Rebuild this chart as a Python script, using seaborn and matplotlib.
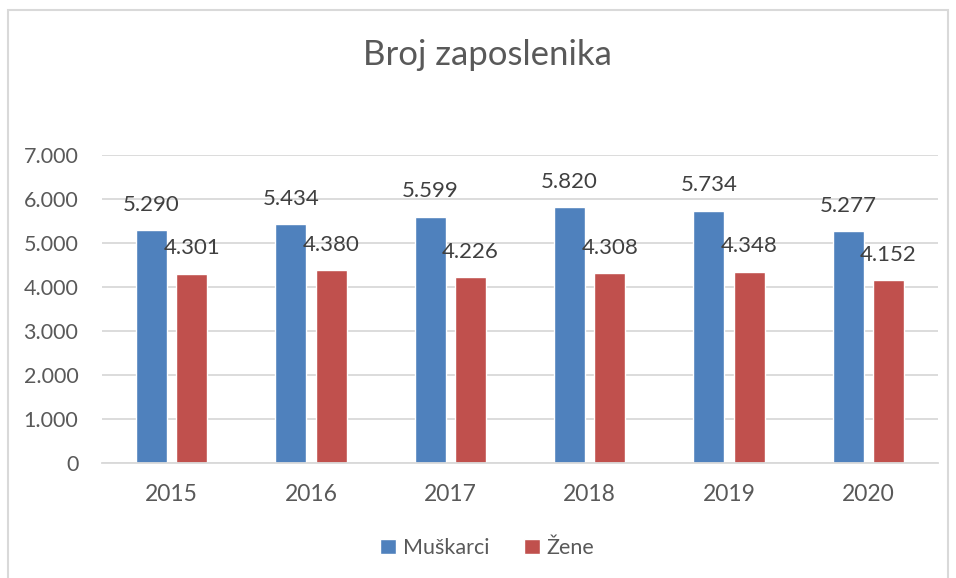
import pandas as pd
import matplotlib.pyplot as plt
import seaborn as sns
from matplotlib.patches import Rectangle

godine = ["2015", "2016", "2017", "2018", "2019", "2020"]
muskarci = [5290, 5434, 5599, 5820, 5734, 5277]
zene = [4301, 4380, 4226, 4308, 4348, 4152]
serije = ["Muškarci", "Žene"]
boje = ["#4F81BD", "#C0504D"]
y_ticks = [0, 1000, 2000, 3000, 4000, 5000, 6000, 7000]


def fmt(v):
    return f"{v:,}".replace(",", ".")


df = pd.DataFrame({
    "godina": godine * 2,
    "broj": muskarci + zene,
    "spol": [serije[0]] * len(godine) + [serije[1]] * len(godine),
})

sns.set_style("white")
plt.rcParams["font.family"] = ["Lato", "DejaVu Sans"]

fig = plt.figure(figsize=(9.56, 5.78), dpi=100)
fig.patches.append(Rectangle((8 / 956, -0.01), 940 / 956, 1 - 10 / 578 + 0.01,
                             transform=fig.transFigure, fill=False,
                             edgecolor="#d9d9d9", linewidth=1.5))
ax = fig.add_axes([102 / 956, 1 - 463 / 578, 836 / 956, 308 / 578])

sns.barplot(data=df, x="godina", y="broj", hue="spol", palette=boje,
            width=0.58, gap=0.23, ax=ax, saturation=1)

for cont, vals in zip(ax.containers, [muskarci, zene]):
    ax.bar_label(cont, labels=[fmt(v) for v in vals], padding=11,
                 fontsize=16, color="#404040")

ax.set_ylim(0, 7000)
ax.set_yticks(y_ticks)
ax.set_yticklabels([fmt(v) for v in y_ticks])
ax.yaxis.grid(True, color="#d9d9d9", linewidth=1.3)
ax.set_axisbelow(True)
for s in ["left", "right", "top"]:
    ax.spines[s].set_visible(False)
ax.spines["bottom"].set_color("#d9d9d9")
ax.spines["bottom"].set_linewidth(1.3)
ax.tick_params(axis="both", length=0, colors="#595959")
ax.tick_params(axis="y", pad=17, labelsize=15.5)
ax.tick_params(axis="x", pad=15, labelsize=16.5)
ax.set_xlabel("")
ax.set_ylabel("")

ax.legend_.remove()
handles, labels = ax.get_legend_handles_labels()
fig.legend(handles, labels, loc="center", bbox_to_anchor=(487 / 956, 1 - 548 / 578),
           ncol=2, frameon=False, fontsize=15.5, labelcolor="#595959",
           handlelength=0.75, handleheight=0.75, handletextpad=0.3, columnspacing=1.6)

fig.text(487 / 956, 1 - 55 / 578, "Broj zaposlenika", ha="center", va="center",
         fontsize=25, color="#595959")

fig.savefig("out.png", dpi=100)
